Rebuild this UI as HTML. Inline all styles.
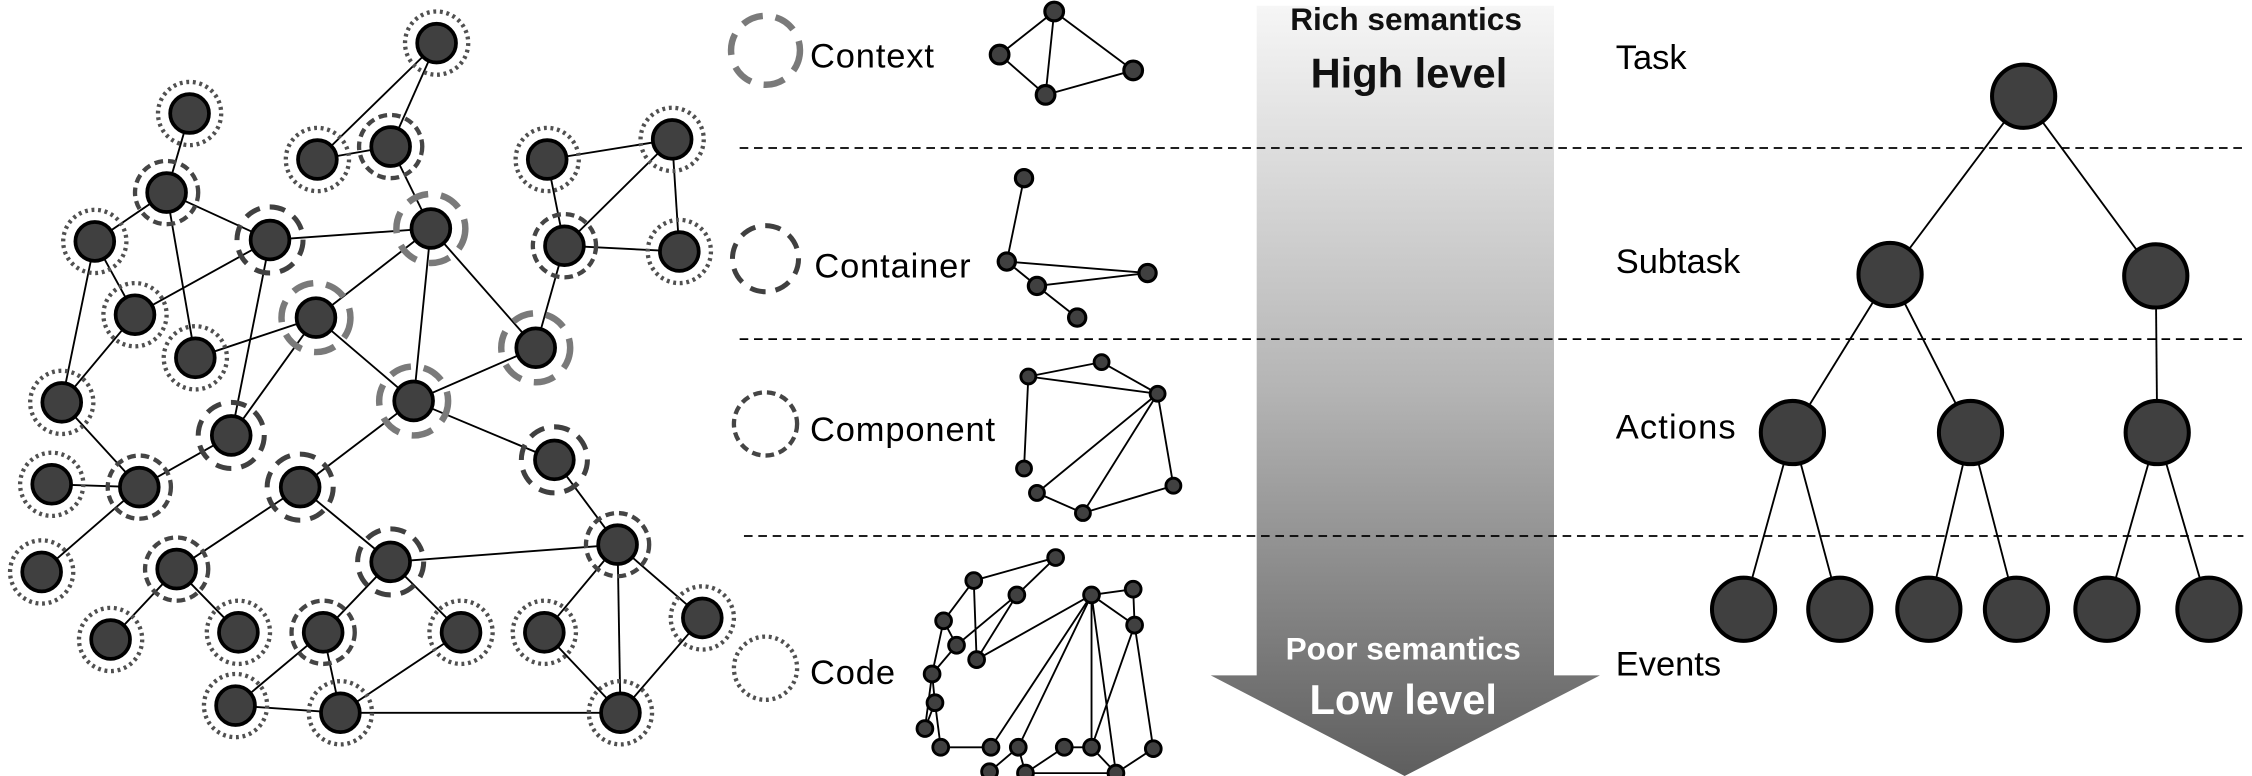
<!DOCTYPE html>
<html><head><meta charset="utf-8"><style>
html,body{margin:0;padding:0;background:#fff;overflow:hidden}
svg{display:block}
text{font-family:"Liberation Sans",sans-serif}
</style></head><body>
<svg id="fig" width="2252" height="776" viewBox="0 0 1568 540" preserveAspectRatio="none" xmlns="http://www.w3.org/2000/svg">
<defs>
<linearGradient id="arrowGrad" x1="0" y1="0" x2="0" y2="1">
<stop offset="0" stop-color="#f6f6f6"/><stop offset="0.5" stop-color="#b4b4b4"/><stop offset="1" stop-color="#5e5e5e"/>
</linearGradient>
</defs>
<g>
<polygon points="875,4 1082,4 1082,470 1114,470 978,540 843,470 875,470" fill="url(#arrowGrad)"/>
<text x="979" y="21" text-anchor="middle" font-size="22" font-weight="bold" fill="#111">Rich semantics</text>
<text x="981" y="61" text-anchor="middle" font-size="29" font-weight="bold" fill="#111">High level</text>
<text x="977" y="459" text-anchor="middle" font-size="22" font-weight="bold" fill="#fff">Poor semantics</text>
<text x="977" y="497" text-anchor="middle" font-size="29" font-weight="bold" fill="#fff">Low level</text>
</g>
<g stroke="#000" stroke-width="1.2" stroke-dasharray="6 4">
<line x1="515" y1="103" x2="1562" y2="103"/>
<line x1="515" y1="236" x2="1562" y2="236"/>
<line x1="518" y1="373" x2="1562" y2="373"/>
</g>
<g id="leftEdges" stroke="#000" stroke-width="1.3"></g>
<g id="leftNodes"></g>
<g id="legend"></g>
<g id="mini"></g>
<g id="tree"></g>
<g font-size="24" fill="#000">
<text x="1125" y="48">Task</text>
<text x="1125" y="190">Subtask</text>
<text x="1125" y="305" letter-spacing="0.8">Actions</text>
<text x="1125" y="470">Events</text>
</g>
</svg>
<script>
const NS="http://www.w3.org/2000/svg";
const leftNodeX=[304,132,221,272,381,468,116,66,188,300,393,473,94,136,220,373,43,288,161,36,97,209,386,29,123,272,430,77,166,225,321,379,489,164,237,432];
const leftNodeY=[30,79,111,102,111,97,134,168,167,159,171,175,219,249,221,242,280,279,303,337,339,339,320,398,396,391,379,445,440,440,440,440,430,491,496,496];
const leftNodeType=["d","d","d","m","d","d","m","d","c","x","m","d","d","d","x","x","d","x","c","d","m","c","c","d","m","c","m","d","d","m","d","d","d","d","d","d"];
const leftEdges=[[1,3],[1,4],[3,4],[4,10],[2,7],[7,8],[7,9],[7,14],[8,13],[8,17],[9,10],[9,13],[9,19],[10,15],[10,18],[10,16],[14,15],[15,18],[15,19],[5,6],[5,11],[6,11],[6,12],[11,12],[11,16],[16,18],[13,17],[17,21],[20,21],[21,24],[21,19],[18,22],[18,23],[22,25],[22,26],[23,27],[26,27],[25,28],[25,29],[26,30],[26,31],[27,32],[27,36],[27,33],[30,34],[30,35],[34,35],[35,31],[35,36],[32,36],[33,36]];
const ringStyles={d:{r:22,c:"#505050",w:3,da:"2 2.6"},m:{r:22,c:"#454545",w:3,da:"6 3.5"},c:{r:23,c:"#404040",w:3.5,da:"11 7"},x:{r:24,c:"#7a7a7a",w:4.5,da:"15 9"}};
const legendLabels=["Context","Container","Component","Code"];
const legendTypes=["x","c","m","d"];
const legendY=[35,180,295,465];
const legendTextY=[47,193,307,476];
const ctxX=[734,696,789,728],ctxY=[8,38,49,66];
const ctxE=[[0,1],[0,2],[0,3],[1,3],[3,2]];
const conX=[713,701,799,722,750],conY=[124,182,190,199,221];
const conE=[[0,1],[1,2],[1,3],[3,2],[3,4]];
const cmpX=[767,716,806,713,722,754,817],cmpY=[252,262,274,326,343,357,338];
const cmpE=[[1,0],[0,2],[1,2],[1,3],[2,4],[2,5],[2,6],[4,5],[5,6]];
const codeX=[735,678,708,760,789,790,657,666,680,649,651,644,655,690,709,741,760,803,689,714,777];
const codeY=[388,404,414,414,410,435,432,449,459,469,489,507,520,520,520,520,520,521,537,538,538];
const codeE=[[0,1],[0,2],[2,7],[2,8],[1,6],[1,8],[6,7],[6,9],[7,9],[9,11],[9,10],[10,11],[10,12],[12,13],[13,3],[14,3],[16,3],[20,3],[3,4],[3,5],[4,5],[5,16],[5,17],[3,8],[14,18],[14,19],[19,15],[15,16],[19,20],[20,17],[16,20]];
const treeX=[1409,1316,1501,1248,1372,1502,1214,1281,1343,1404,1467,1538];
const treeY=[67,191,192,301,301,301,424,424,424,424,424,424];
const treeE=[[0,1],[0,2],[1,3],[1,4],[2,5],[3,6],[3,7],[4,8],[4,9],[5,10],[5,11]];

function mk(tag,attrs,parent){const e=document.createElementNS(NS,tag);for(const k in attrs)e.setAttribute(k,attrs[k]);parent.appendChild(e);return e;}
const le=document.getElementById('leftEdges');
leftEdges.forEach((p,i)=>{const a=p[0]-1,b=p[1]-1;
 const l=mk('line',{x1:leftNodeX[a],y1:leftNodeY[a],x2:leftNodeX[b],y2:leftNodeY[b]},le);
 
 });
const ln=document.getElementById('leftNodes');
leftNodeX.forEach((x,i)=>{const s=ringStyles[leftNodeType[i]];const y=leftNodeY[i];
 const g=mk('g',{},ln);
 
 
 mk('circle',{cx:x,cy:y,r:s.r,fill:"none",stroke:s.c,"stroke-width":s.w,"stroke-dasharray":s.da},g);
 mk('circle',{cx:x,cy:y,r:13.5,fill:"#404040",stroke:"#000","stroke-width":2.6},g);});
const lg=document.getElementById('legend');
legendLabels.forEach((t,i)=>{const s=ringStyles[legendTypes[i]];
 const c=mk('circle',{cx:533,cy:legendY[i],r:s.r,fill:"none",stroke:s.c,"stroke-width":s.w,"stroke-dasharray":s.da},lg);
 
 
 const tx=mk('text',{x:(i==1?567:564),y:legendTextY[i],"font-size":24,"letter-spacing":"0.6",fill:"#000"},lg);
 tx.textContent=t;
 
 });
const mini=document.getElementById('mini');
function graph(name,X,Y,E,r,sw){const g=mk('g',{},mini);
 
 
 E.forEach(p=>mk('line',{x1:X[p[0]],y1:Y[p[0]],x2:X[p[1]],y2:Y[p[1]],stroke:"#000","stroke-width":1.3},g));
 X.forEach((x,i)=>mk('circle',{cx:x,cy:Y[i],r:r,fill:"#404040",stroke:"#000","stroke-width":sw},g));}
graph('context-mini-graph',ctxX,ctxY,ctxE,6.5,2.2);
graph('container-mini-graph',conX,conY,conE,6,2.2);
graph('component-mini-graph',cmpX,cmpY,cmpE,5.2,2);
graph('code-mini-graph',codeX,codeY,codeE,5.5,2);
const tr=document.getElementById('tree');
treeE.forEach((p,i)=>{const l=mk('line',{x1:treeX[p[0]],y1:treeY[p[0]],x2:treeX[p[1]],y2:treeY[p[1]],stroke:"#000","stroke-width":1.3},tr);
 
 });
treeX.forEach((x,i)=>{const c=mk('circle',{cx:x,cy:treeY[i],r:22,fill:"#404040",stroke:"#000","stroke-width":2.8},tr);
 
 });
</script>
</body></html>
